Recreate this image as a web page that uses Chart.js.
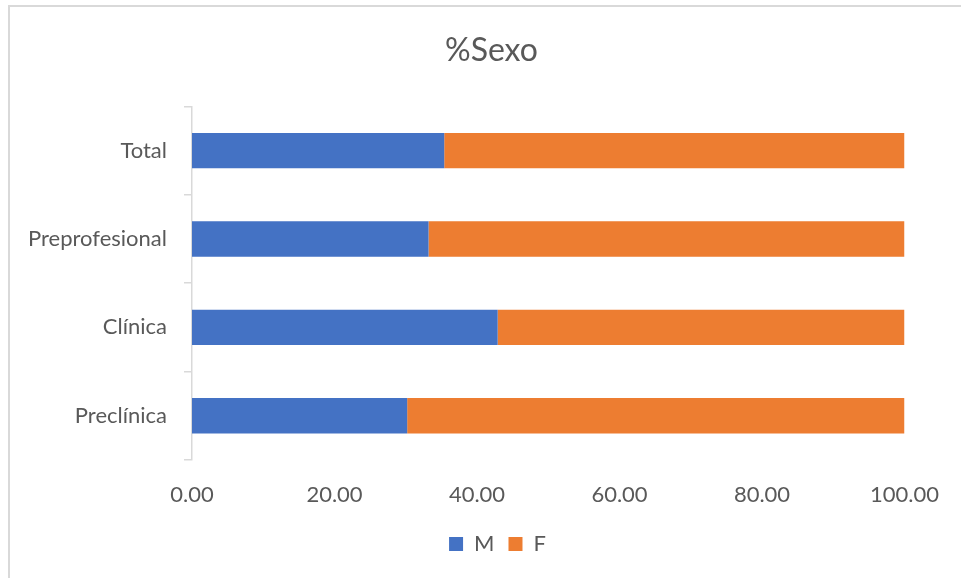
<!DOCTYPE html>
<html>
<head>
<meta charset="utf-8">
<title>%Sexo</title>
<script src="https://cdn.jsdelivr.net/npm/chart.js@4.4.1/dist/chart.umd.min.js"></script>
<style>
  html, body { margin: 0; padding: 0; background: #fff; overflow: hidden; }
  #frame {
    position: absolute; left: 8px; top: 5px; width: 1000px; height: 700px;
    border-top: 2px solid #d9d9d9; border-left: 2px solid #d9d9d9;
  }
  #wrap { position: absolute; left: 0; top: 0; width: 961px; height: 578px; }
</style>
</head>
<body>
<div id="frame"></div>
<div id="wrap"><canvas id="chart" width="961" height="578"></canvas></div>
<script>
  const categories = ["Total", "Preprofesional", "Clínica", "Preclínica"];
  const maleValues = [35.4, 33.2, 42.9, 30.2];
  const femaleValues = [64.6, 66.8, 57.1, 69.8];
  const xTicks = [0, 20, 40, 60, 80, 100];

  const textColor = "#595959";
  const lineColor = "#d9d9d9";
  const fontFamily = "Lato, 'Open Sans', sans-serif";

  Chart.defaults.font.family = fontFamily;
  Chart.defaults.color = textColor;

  // long category names run past the padded y box; let them draw there.
  // legend sits a touch right of the plot centre
  const tweakLayout = {
    id: "tweakLayout",
    afterLayout: function(chart) {
      chart.scales.y.left = 0;
      chart.legend.left += 6;
      chart.legend.right += 6;
    }
  };

  const ctx = document.getElementById("chart");

  new Chart(ctx, {
    type: "bar",
    data: {
      labels: categories,
      datasets: [
        {
          label: "M",
          data: maleValues,
          backgroundColor: "#4472c4",
          categoryPercentage: 1,
          barPercentage: 0.4
        },
        {
          label: "F",
          data: femaleValues,
          backgroundColor: "#ed7d31",
          categoryPercentage: 1,
          barPercentage: 0.4
        }
      ]
    },
    plugins: [tweakLayout],
    options: {
      indexAxis: "y",
      responsive: false,
      animation: false,
      layout: {
        padding: { left: 73, right: 51, top: 0, bottom: 13 }
      },
      plugins: {
        title: {
          display: true,
          text: "%Sexo",
          color: textColor,
          font: { size: 32, weight: "normal" },
          padding: { top: 31, bottom: 37 }
        },
        legend: {
          display: true,
          position: "bottom",
          labels: {
            boxWidth: 14,
            boxHeight: 14,
            padding: 14,
            color: textColor,
            font: { size: 22 }
          }
        },
        tooltip: { enabled: false }
      },
      scales: {
        x: {
          stacked: true,
          min: 0,
          max: 100,
          afterBuildTicks: function(scale) {
            scale.ticks = xTicks.map(function(v) { return { value: v }; });
          },
          afterFit: function(scale) { scale.height = 59; },
          grid: { display: false, drawTicks: false },
          border: { display: false },
          ticks: {
            padding: 22,
            font: { size: 22 },
            callback: function(value) { return Number(value).toFixed(2); }
          }
        },
        y: {
          stacked: true,
          afterFit: function(scale) { scale.width = 119; },
          grid: {
            display: true,
            drawOnChartArea: false,
            drawTicks: true,
            tickLength: 8,
            color: lineColor,
            lineWidth: 1.5
          },
          border: { display: true, color: lineColor, width: 1.5 },
          ticks: {
            padding: 17,
            font: { size: 22 }
          }
        }
      }
    }
  });
</script>
</body>
</html>
